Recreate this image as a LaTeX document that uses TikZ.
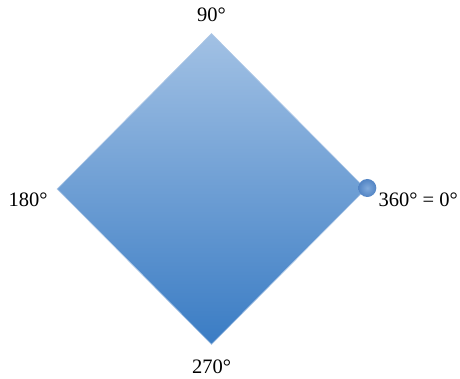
\documentclass[tikz,border=0pt]{standalone}
\usepackage{fontspec}
\setmainfont{Liberation Serif}
\usepackage{tikz}
\usetikzlibrary{positioning,shapes.geometric}
\definecolor{quadtop}{RGB}{162,193,228}
\definecolor{quadbottom}{RGB}{58,124,196}
\definecolor{quadedge}{RGB}{175,200,230}
\definecolor{knobin}{RGB}{128,170,220}
\definecolor{knobout}{RGB}{82,132,196}

\begin{document}
\begin{tikzpicture}[
  x=1pt, y=1pt,
  font=\fontsize{20.5}{24}\selectfont,
  quad/.style={diamond, inner sep=0pt, minimum width=309pt, minimum height=311pt,
    top color=quadtop, bottom color=quadbottom, draw=quadedge, line width=0.6pt},
  knob/.style={circle, inner sep=0pt, minimum size=18pt, inner color=knobin, outer color=knobout},
  deg/.style={inner sep=0pt}
]
\useasboundingbox (0,0) rectangle (460,379);
\node[quad] (sq) at (211.5,190) {};
\node[knob] (pt) at ([xshift=1pt,yshift=1pt]sq.east) {};
\node[deg, anchor=base] (n90) at ([yshift=12pt]sq.north) {90°};
\node[deg, anchor=base] (n270) at ([yshift=-29pt]sq.south) {270°};
\node[deg, anchor=base east] (n180) at ([xshift=-9pt,yshift=-18pt]sq.west) {180°};
\node[deg, anchor=base west] (n0) at ([xshift=12pt,yshift=-18pt]sq.east) {360° = 0°};
\end{tikzpicture}
\end{document}
